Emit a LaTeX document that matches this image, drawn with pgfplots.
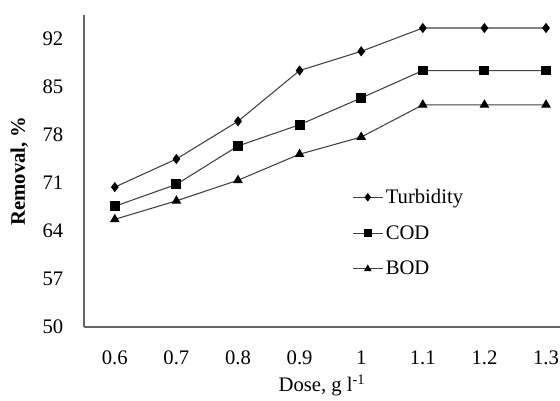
\documentclass[border=0pt]{standalone}
\usepackage{pgfplots}
\pgfplotsset{compat=1.18}
\usepackage{fontspec}
\setmainfont{Liberation Serif}

\begin{document}
\begin{tikzpicture}
  \begin{axis}[
      scale only axis,
      width=357pt, height=234pt,
      xmin=0.55, xmax=1.3227,
      ymin=50, ymax=95.5,
      xtick={0.6,0.7,...,1.3},
      xticklabels={0.6,0.7,0.8,0.9,1,1.1,1.2,1.3},
      ytick={50,57,64,71,78,85,92},
      axis x line*=bottom,
      axis y line*=left,
      axis line style={gray!80!black, line width=0.8pt, -},
      major tick length=0pt,
      tick label style={font=\fontsize{15.5}{18}\selectfont},
      /pgf/number format/assume math mode=true,
      xticklabel style={yshift=-14pt},
      yticklabel style={xshift=-12pt},
      xlabel={Dose, g l\textsuperscript{-1}},
      ylabel={\textbf{Removal, \%}},
      label style={font=\fontsize{15.5}{18}\selectfont},
      xlabel style={yshift=-1pt},
      ylabel style={yshift=4pt},
      every axis plot/.append style={black!75, line width=0.8pt},
      legend style={at={(0.555,0.46)}, anchor=north west, draw=none, fill=none,
        font=\fontsize{15.5}{18}\selectfont, row sep=11pt},
      legend cell align=left,
      legend image code/.code={
        \draw[mark repeat=2,mark phase=2,mark size=2.6pt] plot coordinates {(0cm,0cm) (0.39cm,0cm) (0.78cm,0cm)};},
    ]
    \addplot[mark=diamond*, mark size=3.2pt, mark options={black, fill=black}] coordinates {
      (0.6,70.4) (0.7,74.5) (0.8,80.0) (0.9,87.4) (1.0,90.2) (1.1,93.6) (1.2,93.6) (1.3,93.6)};
    \addplot[mark=square*, mark size=3.3pt, mark options={black, fill=black}] coordinates {
      (0.6,67.6) (0.7,70.8) (0.8,76.4) (0.9,79.5) (1.0,83.4) (1.1,87.4) (1.2,87.4) (1.3,87.4)};
    \addplot[mark=triangle*, mark size=3.4pt, mark options={black, fill=black}] coordinates {
      (0.6,65.7) (0.7,68.4) (0.8,71.4) (0.9,75.2) (1.0,77.7) (1.1,82.4) (1.2,82.4) (1.3,82.4)};
    \legend{Turbidity, COD, BOD}
    \coordinate (bl) at (rel axis cs:0,0);
    \coordinate (tr) at (rel axis cs:1,1);
  \end{axis}
  \pgfresetboundingbox
  \path[use as bounding box] ([xshift=-63pt, yshift=-55.5pt]bl) rectangle ([yshift=11.25pt]tr);
\end{tikzpicture}
\end{document}
